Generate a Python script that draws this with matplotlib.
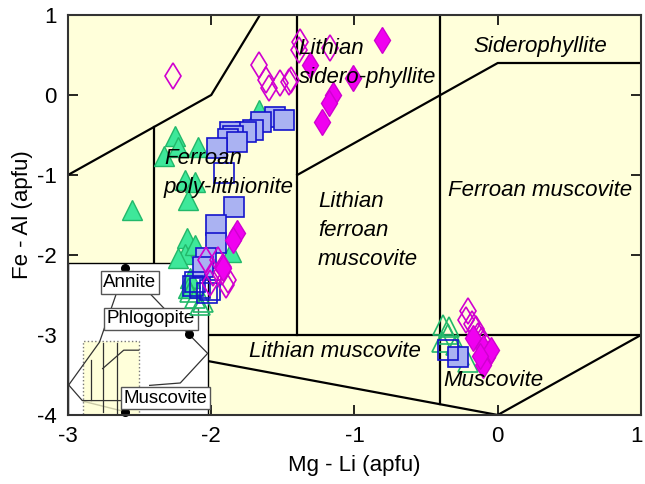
import matplotlib
matplotlib.use('Agg')
import matplotlib.pyplot as plt
import matplotlib.transforms as mtransforms
from matplotlib.patches import Rectangle

plt.rcParams['font.family'] = ['Liberation Sans', 'DejaVu Sans']
plt.rcParams['axes.unicode_minus'] = False

# Mg-Li vs Fe-Al (apfu) data
# green triangles
tri_x = [-2.25, -2.23, -2.33, -2.09, -1.67, -2.18, -2.11, -2.16, -2.55, -2.17,
         -2.18, -2.23, -2.11, -1.86, -2.15, -2.16]
tri_y = [-0.51, -0.65, -0.76, -0.65, -0.19, -1.06, -1.09, -1.31, -1.44, -1.79,
         -1.99, -2.04, -1.875, -1.96, -2.29, -2.41]
tri_open_x = [-2.08, -2.11, -2.06, -2.15, -0.38, -0.34, -0.35, -0.39, -0.29, -0.27, -0.21]
tri_open_y = [-2.625, -2.54, -2.59, -2.46, -2.875, -2.90, -2.99, -3.09, -3.125, -3.25, -3.34]

# blue squares
sq_x = [-1.555, -1.49, -1.65, -1.71, -1.76, -1.87, -1.85, -1.88, -1.82, -1.96,
        -1.84, -1.97, -1.97, -2.04, -2.06, -0.28]
sq_y = [-0.275, -0.31, -0.34, -0.44, -0.46, -0.46, -0.51, -0.55, -0.59, -0.66,
        -1.40, -1.625, -1.85, -2.04, -2.15, -3.275]
sq_open_x = [-1.91, -2.13, -2.08, -2.01, -2.03, -2.11, -0.35]
sq_open_y = [-0.975, -2.39, -2.41, -2.44, -2.475, -2.34, -3.19]

# magenta diamonds
dm_open_x = [-2.27, -1.67, -1.62, -1.60, -1.52, -1.44, -1.39, -1.38, -1.17, -1.46,
             -2.04, -1.95, -1.92, -1.925, -1.99, -1.88, -2.01, -1.90,
             -0.21, -0.22, -0.18, -0.15, -0.14, -0.11]
dm_open_y = [0.24, 0.375, 0.19, 0.09, 0.15, 0.19, 0.56, 0.66, 0.59, 0.16,
             -2.06, -2.06, -2.15, -2.21, -2.225, -2.31, -2.35, -2.375,
             -2.70, -2.81, -2.86, -2.93, -3.01, -3.06]
dm_x = [-0.81, -1.31, -1.01, -1.15, -1.18, -1.23, -1.82, -1.85, -1.92,
        -0.17, -0.10, -0.075, -0.10, -0.05, -0.125]
dm_y = [0.69, 0.375, 0.21, 0.0, -0.10, -0.34, -1.725, -1.81, -2.16,
        -3.04, -3.16, -3.275, -3.375, -3.19, -3.26]

# field boundaries
boundaries = [
    ([-3, -2, -1.66], [-1, 0, 1]),
    ([-2.4, -2.4], [-0.4, -3]),
    ([-1.4, -1.4], [1, -3]),
    ([-1.4, 0, 1], [-1, 0.4, 0.4]),
    ([-0.4, -0.4], [1, -3.867]),
    ([-3, 1], [-3, -3]),
    ([-3, 0, 1], [-3, -4, -3]),
]

# field names
field_labels = [
    ('Lithian\nsidero-phyllite', -1.39, 0.395, 'left'),
    ('Siderophyllite', 0.30, 0.61, 'center'),
    ('Ferroan\npoly-lithionite', -2.33, -0.975, 'left'),
    ('Lithian\nferroan\nmuscovite', -1.255, -1.70, 'left'),
    ('Ferroan muscovite', 0.295, -1.19, 'center'),
    ('Lithian muscovite', -1.136, -3.21, 'center'),
    ('Muscovite', -0.03, -3.575, 'center'),
]

# overview inset (whole diagram)
inset_x0, inset_x1 = -3.0, -2.02
inset_y0, inset_y1 = -4.0, -2.1
zoom_box = (-2.897, -4.0, 0.391, 0.92)
inset_lines = [
    ([-2.60, -2.157], [-2.16, -2.99]),
    ([-2.60, -2.78, -2.995], [-2.16, -3.09, -3.625]),
    ([-2.995, -2.90, -2.62], [-3.625, -3.82, -3.82]),
    ([-2.157, -2.025, -2.216, -2.43], [-2.99, -3.23, -3.60, -3.63]),
    ([-2.837, -2.837], [-3.31, -3.81]),
    ([-2.758, -2.758], [-3.10, -3.96]),
    ([-2.658, -2.658], [-3.10, -3.98]),
    ([-2.758, -2.611, -2.506], [-3.42, -3.19, -3.19]),
]
inset_faint = ([-2.89, -2.60], [-3.83, -3.96])
end_members = ['Annite', 'Phlogopite', 'Muscovite']
end_dot_x = [-2.60, -2.157, -2.60]
end_dot_y = [-2.16, -2.99, -3.96]
end_lab_x = [-2.567, -2.42, -2.32]
end_lab_y = [-2.344, -2.80, -3.79]

fig = plt.figure(figsize=(6.45, 4.84), dpi=100)
ax = fig.add_axes([0.1054, 0.1426, 0.8884, 0.8264])
ax.set_facecolor('#ffffda')
ax.set_xlim(-3, 1)
ax.set_ylim(-4, 1)

for bx, by in boundaries:
    ax.plot(bx, by, color='black', lw=1.6, zorder=2)

# inset
ax.add_patch(Rectangle((inset_x0, inset_y0), inset_x1 - inset_x0, inset_y1 - inset_y0,
                       facecolor='white', edgecolor='black', lw=1.0, zorder=3))
ax.add_patch(Rectangle(zoom_box[:2], zoom_box[2], zoom_box[3], facecolor='#ffffda',
                       edgecolor='#777777', ls=':', lw=1.0, zorder=3.1))
ax.plot(*inset_faint, color='#c9c9a6', lw=1.0, zorder=3.2)
for lx, ly in inset_lines:
    ax.plot(lx, ly, color='#333333', lw=0.9, zorder=3.3)
ax.plot(end_dot_x, end_dot_y, 'o', color='black', ms=5.5, zorder=3.4, clip_on=False)
for name, lx, ly in zip(end_members, end_lab_x, end_lab_y):
    ax.text(lx, ly, name, fontsize=13.5, ha='center', va='center', zorder=3.5,
            bbox=dict(boxstyle='square,pad=0.15', fc='white', ec='#555555', lw=1.0))

# samples
ax.plot(tri_x, tri_y, '^', ms=14.5, mfc='#3ee89a', mec='#22b86a', mew=1.0, ls='none', zorder=5)
ax.plot(tri_open_x, tri_open_y, '^', ms=14.5, mfc='none', mec='#22b86a', mew=1.2, ls='none', zorder=5)
ax.plot(sq_x, sq_y, 's', ms=14, mfc='#aab2f2', mec='#1414cc', mew=1.2, ls='none', zorder=6)
ax.plot(sq_open_x, sq_open_y, 's', ms=14, mfc='none', mec='#1414cc', mew=1.2, ls='none', zorder=6)
ax.plot(dm_open_x, dm_open_y, 'd', ms=13.5, mfc='none', mec='#d000d0', mew=1.2, ls='none', zorder=7)
ax.plot(dm_x, dm_y, 'd', ms=13.5, mfc='#f000f0', mec='#d000d0', mew=1.0, ls='none', zorder=7)

for txt, tx, ty, ha in field_labels:
    ax.text(tx, ty, txt, fontsize=16, style='italic', ha=ha, va='center',
            multialignment='left', linespacing=1.5, zorder=10)

ax.set_xticks([-3, -2, -1, 0, 1])
ax.set_yticks([-4, -3, -2, -1, 0, 1])
ax.tick_params(direction='in', top=True, right=True, length=7, width=1.2,
               labelsize=16, pad=8)
ax.set_axisbelow(True)
for sp in ax.spines.values():
    sp.set_color('#333333')
    sp.set_linewidth(1.5)
    sp.set_zorder(11)

# keep the last x tick label inside the canvas
last = ax.get_xticklabels()[-1]
last.set_transform(last.get_transform() + mtransforms.ScaledTranslation(-3 / 72, 0, fig.dpi_scale_trans))

ax.set_xlabel('Mg - Li (apfu)', fontsize=16, labelpad=6)
ax.set_ylabel('Fe - Al (apfu)', fontsize=16, labelpad=3)

fig.savefig('out.png', dpi=100)
